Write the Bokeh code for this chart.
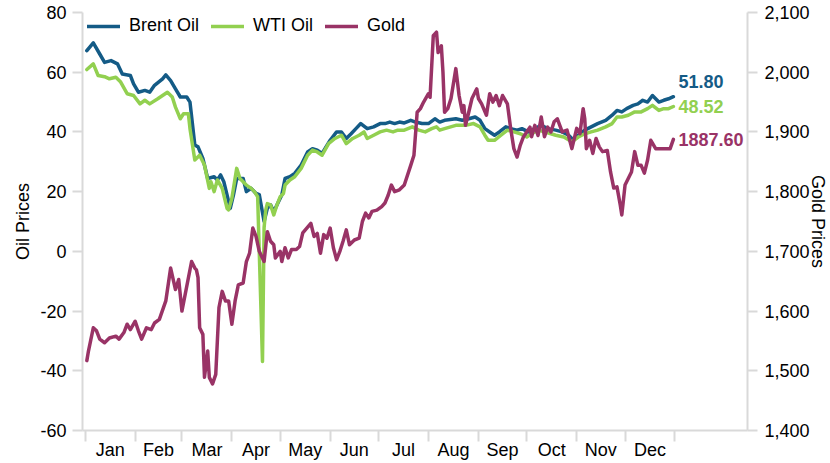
import pandas as pd
from bokeh.plotting import figure
from bokeh.models import (Range1d, LinearAxis, FixedTicker, Legend, LegendItem,
                          Label, NumeralTickFormatter)
from bokeh.embed import file_html
from bokeh.resources import INLINE
from bokeh.core.properties import value

# ---------------- data ----------------
title_text = "12/31/2019 - 12/31/2020"
months = ["Jan", "Feb", "Mar", "Apr", "May", "Jun",
          "Jul", "Aug", "Sep", "Oct", "Nov", "Dec"]
oil_ticks = [-60, -40, -20, 0, 20, 40, 60, 80]
gold_ticks = [1400, 1500, 1600, 1700, 1800, 1900, 2000, 2100]

brent_dates = [
    "2020-01-02", "2020-01-06", "2020-01-10", "2020-01-13", "2020-01-17", "2020-01-21",
    "2020-01-24", "2020-01-29", "2020-01-31", "2020-02-03", "2020-02-07", "2020-02-10",
    "2020-02-13", "2020-02-18", "2020-02-20", "2020-02-23", "2020-02-26", "2020-02-29",
    "2020-03-04", "2020-03-06", "2020-03-09", "2020-03-11", "2020-03-14", "2020-03-17",
    "2020-03-21", "2020-03-23", "2020-03-25", "2020-03-27", "2020-03-29", "2020-03-31",
    "2020-04-02", "2020-04-04", "2020-04-08", "2020-04-10", "2020-04-13", "2020-04-16",
    "2020-04-18", "2020-04-21", "2020-04-23", "2020-04-25", "2020-04-27", "2020-04-30",
    "2020-05-02", "2020-05-04", "2020-05-07", "2020-05-10", "2020-05-14", "2020-05-18",
    "2020-05-21", "2020-05-24", "2020-05-27", "2020-06-01", "2020-06-05", "2020-06-08",
    "2020-06-11", "2020-06-14", "2020-06-17", "2020-06-20", "2020-06-24", "2020-06-28",
    "2020-07-02", "2020-07-05", "2020-07-08", "2020-07-11", "2020-07-14", "2020-07-17",
    "2020-07-21", "2020-07-24", "2020-07-28", "2020-08-01", "2020-08-05", "2020-08-08",
    "2020-08-11", "2020-08-18", "2020-08-22", "2020-08-26", "2020-08-30", "2020-09-02",
    "2020-09-05", "2020-09-08", "2020-09-11", "2020-09-14", "2020-09-18", "2020-09-21",
    "2020-09-25", "2020-09-28", "2020-10-02", "2020-10-06", "2020-10-10", "2020-10-14",
    "2020-10-19", "2020-10-23", "2020-10-27", "2020-10-30", "2020-11-02", "2020-11-06",
    "2020-11-10", "2020-11-14", "2020-11-19", "2020-11-23", "2020-11-26", "2020-11-29",
    "2020-12-02", "2020-12-06", "2020-12-09", "2020-12-12", "2020-12-15", "2020-12-18",
    "2020-12-22", "2020-12-25", "2020-12-28", "2020-12-31",
]
brent = [
    67.2, 69.8, 66.1, 63.3, 63.9, 62.8,
    59.4, 58.9, 56.1, 53.3, 53.9, 53.3,
    55.6, 57.8, 59.1, 57.2, 54.4, 51.7,
    51.7, 50.0, 35.6, 35.0, 31.1, 24.4,
    25.0, 23.9, 25.6, 23.3, 18.9, 14.4,
    18.9, 24.4, 24.4, 20.0, 21.1, 19.4,
    19.0, 10.0, 14.4, 15.6, 13.3, 16.7,
    18.9, 24.4, 25.0, 26.1, 28.9, 33.3,
    34.4, 33.9, 32.8, 37.2, 40.0, 40.0,
    37.8, 39.4, 41.1, 42.8, 41.1, 41.7,
    42.8, 42.8, 43.3, 42.8, 43.3, 43.0,
    43.9, 43.3, 42.8, 42.8, 44.4, 43.3,
    43.9, 44.4, 43.9, 44.4, 45.0, 43.9,
    41.1, 40.0, 38.9, 40.0, 41.7, 41.1,
    40.6, 41.1, 40.0, 41.1, 42.2, 41.1,
    40.6, 40.0, 38.9, 37.2, 38.9, 40.6,
    41.7, 42.8, 43.9, 45.6, 47.2, 46.7,
    47.8, 48.9, 49.4, 50.6, 50.0, 52.2,
    50.0, 50.6, 51.1, 51.80,
]

wti_dates = [
    "2020-01-02", "2020-01-06", "2020-01-09", "2020-01-13", "2020-01-16", "2020-01-20",
    "2020-01-23", "2020-01-27", "2020-01-31", "2020-02-04", "2020-02-07", "2020-02-10",
    "2020-02-15", "2020-02-21", "2020-02-24", "2020-02-26", "2020-02-29", "2020-03-02",
    "2020-03-05", "2020-03-06", "2020-03-09", "2020-03-12", "2020-03-15", "2020-03-18",
    "2020-03-19", "2020-03-21", "2020-03-23", "2020-03-26", "2020-03-29", "2020-03-30",
    "2020-04-01", "2020-04-04", "2020-04-06", "2020-04-08", "2020-04-10", "2020-04-13",
    "2020-04-15", "2020-04-17", "2020-04-20", "2020-04-21", "2020-04-22", "2020-04-23",
    "2020-04-25", "2020-04-27", "2020-04-29", "2020-05-01", "2020-05-03", "2020-05-04",
    "2020-05-07", "2020-05-10", "2020-05-14", "2020-05-18", "2020-05-21", "2020-05-24",
    "2020-05-27", "2020-05-31", "2020-06-04", "2020-06-08", "2020-06-11", "2020-06-15",
    "2020-06-19", "2020-06-22", "2020-06-24", "2020-06-28", "2020-07-02", "2020-07-06",
    "2020-07-10", "2020-07-13", "2020-07-17", "2020-07-22", "2020-07-26", "2020-07-30",
    "2020-08-03", "2020-08-06", "2020-08-08", "2020-08-11", "2020-08-18", "2020-08-24",
    "2020-08-29", "2020-09-02", "2020-09-05", "2020-09-07", "2020-09-11", "2020-09-15",
    "2020-09-19", "2020-09-23", "2020-09-27", "2020-10-01", "2020-10-04", "2020-10-08",
    "2020-10-12", "2020-10-16", "2020-10-19", "2020-10-24", "2020-10-29", "2020-11-02",
    "2020-11-06", "2020-11-10", "2020-11-14", "2020-11-19", "2020-11-23", "2020-11-26",
    "2020-11-29", "2020-12-03", "2020-12-07", "2020-12-11", "2020-12-15", "2020-12-18",
    "2020-12-22", "2020-12-25", "2020-12-28", "2020-12-31",
]
wti = [
    60.9, 62.8, 58.9, 58.5, 57.8, 58.3,
    56.7, 52.8, 52.2, 49.4, 50.6, 49.4,
    51.1, 53.3, 51.7, 48.3, 44.4, 46.1,
    46.1, 41.1, 30.6, 32.2, 28.9, 21.1,
    23.3, 20.0, 23.9, 21.1, 14.4, 13.9,
    17.8, 27.8, 24.4, 23.3, 22.2, 21.1,
    20.0, 18.3, -36.9, 8.0, 13.8, 16.0,
    15.6, 12.2, 15.6, 18.3, 19.4, 22.2,
    23.9, 25.0, 27.8, 32.2, 33.9, 33.3,
    32.2, 36.1, 37.8, 38.9, 36.1, 37.8,
    38.9, 40.0, 37.8, 38.9, 40.0, 40.6,
    40.0, 40.6, 40.6, 41.7, 40.6, 40.0,
    41.1, 41.7, 40.6, 41.1, 42.2, 42.2,
    42.8, 41.7, 38.9, 37.2, 37.2, 38.9,
    40.6, 40.0, 39.4, 38.3, 39.4, 40.6,
    40.0, 39.4, 38.9, 38.3, 36.7, 38.3,
    39.4, 40.0, 40.6, 41.7, 42.8, 45.0,
    45.0, 45.6, 46.7, 46.7, 47.8, 48.9,
    47.2, 47.8, 47.8, 48.52,
]

gold_dates = [
    "2020-01-02", "2020-01-03", "2020-01-06", "2020-01-08", "2020-01-10", "2020-01-13",
    "2020-01-16", "2020-01-20", "2020-01-22", "2020-01-25", "2020-01-27", "2020-01-29",
    "2020-02-01", "2020-02-03", "2020-02-05", "2020-02-08", "2020-02-11", "2020-02-13",
    "2020-02-16", "2020-02-20", "2020-02-23", "2020-02-26", "2020-02-28", "2020-03-01",
    "2020-03-07", "2020-03-09", "2020-03-10", "2020-03-11", "2020-03-12", "2020-03-14",
    "2020-03-15", "2020-03-17", "2020-03-18", "2020-03-20", "2020-03-22", "2020-03-24",
    "2020-03-26", "2020-03-28", "2020-03-30", "2020-04-01", "2020-04-03", "2020-04-05",
    "2020-04-08", "2020-04-10", "2020-04-12", "2020-04-14", "2020-04-16", "2020-04-18",
    "2020-04-21", "2020-04-23", "2020-04-25", "2020-04-27", "2020-04-28", "2020-05-01",
    "2020-05-02", "2020-05-04", "2020-05-06", "2020-05-08", "2020-05-11", "2020-05-13",
    "2020-05-15", "2020-05-20", "2020-05-22", "2020-05-24", "2020-05-26", "2020-05-28",
    "2020-05-30", "2020-06-01", "2020-06-03", "2020-06-05", "2020-06-07", "2020-06-09",
    "2020-06-11", "2020-06-13", "2020-06-16", "2020-06-19", "2020-06-21", "2020-06-23",
    "2020-06-25", "2020-06-27", "2020-06-30", "2020-07-03", "2020-07-05", "2020-07-07",
    "2020-07-09", "2020-07-11", "2020-07-14", "2020-07-17", "2020-07-21", "2020-07-23",
    "2020-07-25", "2020-07-27", "2020-07-29", "2020-08-01", "2020-08-02", "2020-08-04",
    "2020-08-06", "2020-08-07", "2020-08-09", "2020-08-10", "2020-08-11", "2020-08-13",
    "2020-08-15", "2020-08-18", "2020-08-20", "2020-08-22", "2020-08-23", "2020-08-24",
    "2020-08-26", "2020-08-28", "2020-08-30", "2020-08-31", "2020-09-01", "2020-09-03",
    "2020-09-06", "2020-09-08", "2020-09-10", "2020-09-12", "2020-09-14", "2020-09-16",
    "2020-09-19", "2020-09-21", "2020-09-23", "2020-09-25", "2020-09-27", "2020-09-29",
    "2020-10-01", "2020-10-03", "2020-10-04", "2020-10-06", "2020-10-08", "2020-10-10",
    "2020-10-12", "2020-10-14", "2020-10-16", "2020-10-18", "2020-10-20", "2020-10-23",
    "2020-10-26", "2020-10-29", "2020-11-01", "2020-11-03", "2020-11-05", "2020-11-06",
    "2020-11-07", "2020-11-09", "2020-11-11", "2020-11-13", "2020-11-15", "2020-11-17",
    "2020-11-20", "2020-11-22", "2020-11-24", "2020-11-26", "2020-11-28", "2020-11-29",
    "2020-12-01", "2020-12-03", "2020-12-05", "2020-12-07", "2020-12-09", "2020-12-11",
    "2020-12-13", "2020-12-15", "2020-12-17", "2020-12-20", "2020-12-23", "2020-12-26",
    "2020-12-29", "2020-12-31",
]
gold = [
    1517, 1533, 1572, 1567, 1553, 1547,
    1555, 1558, 1553, 1564, 1578, 1569,
    1583, 1567, 1553, 1572, 1569, 1580,
    1586, 1617, 1672, 1636, 1653, 1600,
    1683, 1672, 1669, 1656, 1572, 1561,
    1489, 1533, 1489, 1478, 1494, 1606,
    1633, 1617, 1617, 1578, 1617, 1644,
    1647, 1683, 1697, 1739, 1725, 1700,
    1683, 1733, 1717, 1711, 1689, 1700,
    1683, 1706, 1689, 1703, 1703, 1708,
    1731, 1747, 1725, 1730, 1697, 1728,
    1722, 1739, 1706, 1686, 1700, 1717,
    1736, 1711, 1719, 1722, 1750, 1764,
    1756, 1767, 1769, 1775, 1781, 1794,
    1811, 1800, 1803, 1811, 1844, 1861,
    1933, 1939, 1950, 1964, 1958, 2061,
    2067, 2033, 2044, 2000, 1933, 1939,
    1956, 2006, 1961, 1933, 1944, 1911,
    1933, 1956, 1967, 1972, 1956, 1947,
    1928, 1964, 1950, 1961, 1944, 1961,
    1947, 1906, 1872, 1858, 1878, 1892,
    1900, 1908, 1892, 1911, 1894, 1925,
    1892, 1908, 1900, 1917, 1922, 1900,
    1903, 1872, 1906, 1897, 1939, 1922,
    1872, 1886, 1864, 1889, 1875, 1867,
    1869, 1833, 1806, 1808, 1778, 1761,
    1811, 1822, 1833, 1867, 1844, 1844,
    1831, 1853, 1886, 1872, 1872, 1872,
    1872, 1887.60,
]

# ---------------- styling ----------------
BRENT_C = "#145b86"
WTI_C = "#92d050"
GOLD_C = "#993366"
AXIS_C = "#d9d9d9"
FONT = "Liberation Sans"
FS = "18px"
DAY = 86400000


def ms(s):
    return int(pd.Timestamp(s).value // 10**6)


month_starts = [ms(t) for t in pd.date_range("2020-01-01", "2021-01-01", freq="MS")]
month_mids = [(a + b) // 2 for a, b in zip(month_starts[:-1], month_starts[1:])]

x_start = ms("2020-01-01") - 1.7 * DAY
x_end = ms("2020-01-01") + 411 * DAY

p = figure(width=830, height=463, x_axis_type="datetime",
           x_range=Range1d(x_start, x_end), y_range=Range1d(-60, 80),
           output_backend="svg", toolbar_location=None,
           min_border_left=82, min_border_right=83,
           min_border_top=12, min_border_bottom=33)
p.outline_line_color = None
p.xgrid.visible = False
p.ygrid.visible = False
p.background_fill_color = "white"
p.border_fill_color = "white"

# x axis: month-boundary ticks drawn outward (negative tick_in),
# month names centred between the boundaries
xa = p.xaxis[0]
xa.ticker = FixedTicker(ticks=month_mids, minor_ticks=month_starts)
xa.major_label_overrides = {m: n for m, n in zip(month_mids, months)}
xa.major_label_standoff = 9
xa.major_tick_line_color = None
xa.major_tick_out = 0
xa.major_tick_in = 0
xa.minor_tick_line_color = AXIS_C
xa.minor_tick_line_width = 2
xa.minor_tick_out = 0
xa.minor_tick_in = -11

# left axis
ya = p.yaxis[0]
ya.ticker = FixedTicker(ticks=oil_ticks)
ya.major_label_overrides = {t: str(t) for t in oil_ticks}
ya.axis_label = "Oil Prices"
ya.axis_label_standoff = 4
ya.major_label_standoff = 6

# right axis
p.extra_y_ranges = {"gold": Range1d(1400, 2100)}
ra = LinearAxis(y_range_name="gold", ticker=FixedTicker(ticks=gold_ticks),
                formatter=NumeralTickFormatter(format="0,0"))
ra.axis_label = "Gold Prices"
ra.axis_label_standoff = -5
ra.major_label_standoff = 7
p.add_layout(ra, "right")

for ax in [xa, ya, ra]:
    ax.axis_line_color = AXIS_C
    ax.axis_line_width = 2
    ax.major_label_text_font = FONT
    ax.major_label_text_font_size = FS
    ax.major_label_text_color = "#000000"
    ax.axis_label_text_font = FONT
    ax.axis_label_text_font_size = FS
    ax.axis_label_text_font_style = "normal"
    ax.axis_label_text_color = "#000000"
for ax in [ya, ra]:
    ax.major_tick_line_color = AXIS_C
    ax.major_tick_line_width = 2
    ax.major_tick_out = 10
    ax.major_tick_in = 0
    ax.minor_tick_line_color = None

# lines
line_kw = dict(line_width=3.5, line_join="round", line_cap="round")
r_brent = p.line(pd.to_datetime(brent_dates), brent, line_color=BRENT_C, **line_kw)
r_wti = p.line(pd.to_datetime(wti_dates), wti, line_color=WTI_C, **line_kw)
r_gold = p.line(pd.to_datetime(gold_dates), gold, line_color=GOLD_C,
                y_range_name="gold", **line_kw)

# end-of-line value labels
end_kw = dict(text_font=value(FONT), text_font_size=FS, text_font_style="bold",
              text_baseline="middle", text_align="left", x_offset=5)
p.text(x=[pd.Timestamp(brent_dates[-1])], y=[brent[-1]], text=[f"{brent[-1]:.2f}"],
       text_color=BRENT_C, y_offset=-15, **end_kw)
p.text(x=[pd.Timestamp(wti_dates[-1])], y=[wti[-1]], text=[f"{wti[-1]:.2f}"],
       text_color=WTI_C, **end_kw)
p.text(x=[pd.Timestamp(gold_dates[-1])], y=[gold[-1]], text=[f"{gold[-1]:.2f}"],
       text_color=GOLD_C, y_range_name="gold", **end_kw)

# legend
legend = Legend(items=[LegendItem(label="Brent Oil", renderers=[r_brent]),
                       LegendItem(label="WTI Oil", renderers=[r_wti]),
                       LegendItem(label="Gold", renderers=[r_gold])],
                orientation="horizontal", location=(5, 394),
                glyph_width=33, glyph_height=20, label_standoff=9, spacing=12,
                padding=0, margin=0, border_line_color=None,
                background_fill_alpha=0,
                label_text_font=FONT, label_text_font_size=FS,
                label_text_color="#000000")
p.add_layout(legend)

# date-range caption, partly above the top edge as in the reference
p.add_layout(Label(x=5, y=425, x_units="screen", y_units="screen", text=title_text,
                   text_font=FONT, text_font_size=FS, text_color="#000000",
                   text_baseline="alphabetic"))

open("out.html", "w").write(file_html(p, INLINE))
